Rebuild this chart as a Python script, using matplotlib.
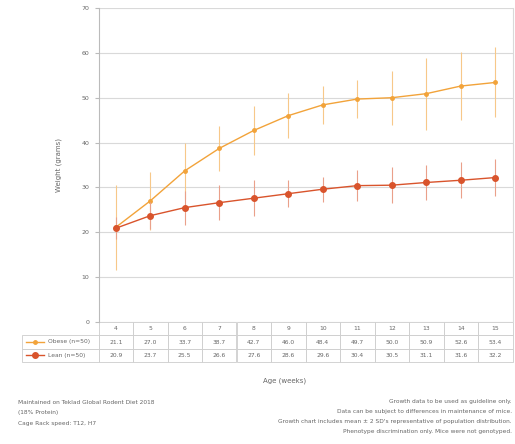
import matplotlib
matplotlib.use("Agg")
from matplotlib import pyplot as plt
from matplotlib.lines import Line2D

# data
ages = [4, 5, 6, 7, 8, 9, 10, 11, 12, 13, 14, 15]
obese_mean = [21.1, 27.0, 33.7, 38.7, 42.7, 46.0, 48.4, 49.7, 50.0, 50.9, 52.6, 53.4]
obese_err = [9.5, 6.5, 6.3, 5.0, 5.5, 5.0, 4.3, 4.3, 6.0, 8.0, 7.5, 7.8]
lean_mean = [20.9, 23.7, 25.5, 26.6, 27.6, 28.6, 29.6, 30.4, 30.5, 31.1, 31.6, 32.2]
lean_err = [2.5, 3.0, 3.8, 3.9, 4.0, 3.0, 2.8, 3.5, 4.0, 4.0, 4.0, 4.2]
series_labels = ["Obese (n=50)", "Lean (n=50)"]
y_ticks = [0, 10, 20, 30, 40, 50, 60, 70]

left_notes = [
    "Maintained on Teklad Global Rodent Diet 2018",
    "(18% Protein)",
    "Cage Rack speed: T12, H7",
]
right_notes = [
    "Growth data to be used as guideline only.",
    "Data can be subject to differences in maintenance of mice.",
    "Growth chart includes mean \u00b1 2 SD's representative of population distribution.",
    "Phenotype discrimination only. Mice were not genotyped.",
]

ORANGE = "#f2a33a"
RED = "#d9542c"
TEXT = "#666666"
GRID = "#d9d9d9"

W, H = 515, 444
fig = plt.figure(figsize=(W / 100, H / 100), dpi=100)
ax = fig.add_axes([98.5 / W, 1 - 322 / H, 414 / W, 314 / H])

ax.errorbar(ages, obese_mean, yerr=obese_err, color=ORANGE, ecolor="#f7c889",
            elinewidth=0.8, lw=1.0, marker="o", ms=2.5, capsize=0, zorder=3)
ax.errorbar(ages, lean_mean, yerr=lean_err, color=RED, ecolor="#eaa08a",
            elinewidth=0.8, lw=1.0, marker="o", ms=4, capsize=0, zorder=4)

ax.set_xlim(3.5, 15.5)
ax.set_ylim(0, 70)
ax.set_yticks(y_ticks)
ax.set_xticks([])
ax.grid(axis="y", color=GRID, lw=0.8)
ax.set_axisbelow(True)
for s in ["top", "bottom"]:
    ax.spines[s].set_visible(False)
ax.spines["left"].set_color("#bbbbbb")
ax.spines["right"].set_color(GRID)
ax.tick_params(axis="y", labelsize=4.5, colors=TEXT, length=3, color="#bbbbbb")
ax.set_ylabel("Weight (grams)", fontsize=5, color=TEXT, labelpad=14)

# data table under the plot
cell_text = [[""] + [str(a) for a in ages],
             [""] + [f"{v:.1f}" for v in obese_mean],
             [""] + [f"{v:.1f}" for v in lean_mean]]
lab_w = 76.5 / 490.5
col_w = 34.5 / 490.5
tab = ax.table(cellText=cell_text, colWidths=[lab_w] + [col_w] * len(ages),
               cellLoc="center", bbox=[-76.5 / 414, -40 / 314, 490.5 / 414, 40 / 314])
tab.auto_set_font_size(False)
tab.set_fontsize(4.3)
for (r, c), cell in tab.get_celld().items():
    cell.set_edgecolor("#cccccc")
    cell.set_linewidth(0.6)
    cell.get_text().set_color(TEXT)
    if r == 0 and c == 0:
        cell.visible_edges = ""

# legend swatches + row labels
row_y = [-(13 + 6.75) / 314, -(13 + 13.5 + 6.75) / 314]
for yy, col, ms, lab in zip(row_y, [ORANGE, RED], [2.5, 4], series_labels):
    ax.add_line(Line2D([-73 / 414, -64 / 414, -55 / 414], [yy, yy, yy], color=col,
                       lw=1.0, marker="o", ms=ms, markevery=[1],
                       transform=ax.transAxes, clip_on=False))
    ax.text(-51 / 414, yy, lab, transform=ax.transAxes, fontsize=4.3,
            color=TEXT, va="center", ha="left")

fig.text(285 / W, 1 - 381 / H, "Age (weeks)", fontsize=5, color=TEXT,
         ha="center", va="center")

for i, line in enumerate(left_notes):
    fig.text(18 / W, 1 - (402 + i * 10.5) / H, line, fontsize=4.2, color=TEXT,
             ha="left", va="center")
for i, line in enumerate(right_notes):
    fig.text(512 / W, 1 - (401 + i * 10.3) / H, line, fontsize=4.2, color=TEXT,
             ha="right", va="center")

fig.savefig("out.png", dpi=100)
